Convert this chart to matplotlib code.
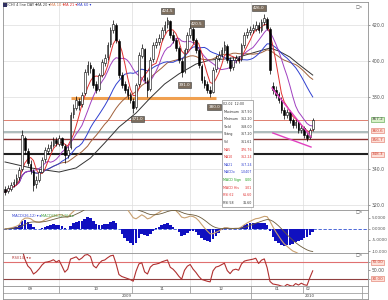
import numpy as np
import pandas as pd
import matplotlib
matplotlib.use('Agg')
import matplotlib.pyplot as plt
from matplotlib.patches import Rectangle

# daily prices, Sep 2009 - Feb 2010
opens = [329.0, 327.5, 329.0, 331.5, 333.0, 335.5, 340.0, 357.0, 350.0, 343.0,
         339.0, 331.5, 334.0, 338.5, 345.5, 350.0, 351.5, 353.5, 356.0, 354.0,
         357.0, 353.0, 348.0, 352.0, 370.5, 374.0, 378.0, 376.0, 382.0, 394.0,
         398.0, 395.5, 387.0, 384.5, 392.5, 399.0, 402.0, 409.5, 417.5, 420.0,
         411.0, 392.0, 387.0, 384.5, 381.0, 378.0, 374.5, 387.0, 403.0, 406.5,
         389.0, 384.5, 401.0, 409.0, 410.5, 413.0, 417.0, 420.5, 422.0, 414.5,
         411.5, 407.0, 400.0, 394.5, 406.5, 414.5, 418.0, 411.5, 406.0, 397.5,
         389.5, 387.0, 384.0, 383.0, 395.5, 401.5, 403.5, 406.0, 408.5, 400.5,
         396.5, 400.5, 401.5, 401.0, 409.0, 414.5, 416.0, 417.5, 418.0, 420.0,
         417.5, 421.5, 423.5, 418.0, 386.0, 384.0, 381.5, 378.5, 373.0, 370.0,
         371.5, 367.0, 364.5, 366.0, 361.5, 362.5, 359.0, 357.5, 362.0]
highs = [330.5, 331.0, 332.5, 334.5, 337.0, 341.0, 361.5, 358.5, 351.5, 345.0,
         340.0, 336.0, 340.0, 346.5, 352.0, 354.0, 355.5, 358.0, 357.5, 359.0,
         358.0, 354.0, 352.5, 371.5, 376.0, 380.5, 379.5, 383.0, 395.5, 400.0,
         399.5, 396.5, 389.0, 393.5, 401.0, 404.0, 410.5, 419.0, 423.0, 421.0,
         412.0, 394.0, 389.0, 386.0, 383.0, 379.5, 388.0, 405.0, 409.5, 407.5,
         391.0, 402.0, 410.5, 413.0, 415.0, 419.0, 422.0, 424.5, 423.0, 416.5,
         413.0, 408.5, 401.5, 407.5, 416.0, 420.5, 419.0, 413.0, 407.0, 398.5,
         391.5, 389.0, 386.0, 396.5, 403.5, 405.5, 408.0, 411.0, 409.5, 402.0,
         402.5, 403.5, 403.0, 410.0, 416.0, 418.5, 419.5, 420.5, 422.0, 421.5,
         423.5, 426.0, 424.5, 419.0, 388.5, 386.0, 383.0, 380.0, 374.5, 373.5,
         373.0, 368.5, 368.0, 367.0, 364.5, 364.0, 360.5, 363.0, 368.5]
lows = [325.5, 326.5, 328.0, 330.0, 331.5, 334.0, 339.0, 348.5, 341.5, 337.0,
        327.5, 329.5, 332.5, 337.5, 344.0, 348.5, 350.0, 352.0, 352.5, 352.5,
        351.5, 343.5, 346.0, 351.0, 368.5, 372.5, 373.0, 374.5, 381.0, 392.5,
        393.5, 385.0, 382.0, 383.5, 391.0, 397.5, 400.5, 408.0, 415.5, 410.0,
        390.5, 385.0, 382.0, 379.0, 376.5, 371.0, 373.5, 386.0, 401.5, 388.0,
        380.0, 383.5, 399.5, 407.0, 409.0, 411.5, 415.5, 418.5, 413.0, 410.0,
        405.5, 399.0, 391.0, 393.5, 405.0, 413.0, 410.0, 404.5, 396.0, 388.0,
        385.0, 382.0, 380.0, 382.0, 394.0, 400.0, 402.0, 404.5, 399.0, 394.5,
        395.0, 399.0, 399.0, 400.0, 407.5, 413.0, 414.5, 415.5, 416.5, 415.5,
        416.0, 420.0, 417.0, 393.0, 381.5, 379.5, 376.5, 371.0, 368.0, 368.5,
        365.5, 362.5, 363.0, 360.0, 360.0, 357.0, 355.5, 356.5, 361.0]
closes = [327.2, 329.4, 331.1, 332.8, 335.0, 339.5, 358.9, 350.6, 343.3, 339.5,
          331.1, 333.9, 338.4, 345.0, 350.6, 351.7, 353.3, 356.1, 354.5, 357.2,
          353.3, 347.8, 350.6, 370.0, 373.9, 378.3, 375.6, 381.1, 393.9, 397.8,
          396.1, 386.7, 383.9, 392.2, 399.5, 401.7, 408.9, 417.2, 420.6, 411.7,
          392.2, 386.7, 383.9, 381.1, 378.3, 373.9, 386.7, 403.3, 407.2, 389.5,
          383.9, 400.6, 408.9, 410.6, 412.8, 417.2, 420.0, 422.8, 414.4, 411.7,
          407.2, 400.6, 393.9, 406.1, 414.4, 418.3, 411.7, 406.1, 397.8, 389.5,
          386.7, 383.9, 382.2, 395.0, 401.7, 403.3, 406.1, 408.9, 400.6, 396.1,
          400.6, 401.7, 400.6, 408.9, 414.4, 416.1, 417.2, 418.3, 420.0, 417.2,
          421.7, 423.9, 418.3, 395.0, 383.9, 381.1, 378.3, 372.8, 370.0, 371.7,
          367.2, 364.4, 366.1, 361.7, 362.8, 358.9, 357.2, 361.7, 367.2]

# slowest average line
slow_days = [0, 9, 19, 25, 30, 35, 40, 46, 51, 56, 61, 67, 72, 77, 82, 88, 93, 96, 100, 103, 108]
slow_vals = [343.9, 340.6, 338.3, 340.6, 346.1, 354.5, 363.3, 371.1, 379.5, 387.2, 392.8,
             398.3, 400.6, 401.1, 402.2, 405.0, 407.2, 405.6, 402.2, 398.3, 392.2]

# support / resistance levels and trend channel
levels = [367.2, 360.6, 356.7, 348.3]
level_colors = ['#e08070', '#a0b0b0', '#8b3030', '#202020']
level_widths = [0.7, 1.2, 1.0, 1.5]
orange_level = 379.5
orange_span = [23, 74]
chan_upper = [(93.7, 385.0), (107.4, 357.8)]
chan_lower = [(94.0, 360.0), (107.4, 352.2)]

peak_days = [57, 65, 91]
trough_days = [45, 62, 72]

month_bounds = [19, 44.5, 65, 86.5, 104.5, 125.3]
month_labels = ['09', '10', '11', '12', '01', '02']
month_label_pos = [9, 31.8, 55, 76, 95.5, 106.3]
year_labels = ['2009', '2010']
year_label_pos = [42.8, 107]

price_ticks = [320, 340, 380, 400, 420]
macd_ticks = [5, 0, -5, -10]
rsi_ticks = [70, 50, 30]

tooltip = [('02-02  12:00', '', '#333333'),
           ('Maximum', '367.90', '#333333'),
           ('Minimum', '362.20', '#333333'),
           ('Yield', '368.00', '#333333'),
           ('Stäng', '367.20', '#333333'),
           ('Vol', '361.61', '#333333'),
           ('MA5', '376.76', '#e03030'),
           ('MA10', '362.24', '#e03030'),
           ('MA21', '367.24', '#3040d0'),
           ('MACDx', '1.0407', '#3040d0'),
           ('MACD Sign', '0.00', '#20a020'),
           ('MACD His', '3.01', '#e03030'),
           ('RSI 62', '61.60', '#e03030'),
           ('RSI 58', '31.60', '#333333')]

W, H = 388, 300
def fx(px):
    return px / W
def fy(py):
    return 1 - py / H

s = pd.Series(closes)
days = np.arange(len(closes))
o = np.array(opens); c = np.array(closes); hi = np.array(highs); lo = np.array(lows)

fig = plt.figure(figsize=(3.88, 3.0), dpi=100)
left, right = 3, 368
xw = fx(right) - fx(left)
ax = fig.add_axes([fx(left), fy(210), xw, fy(2) - fy(210)])
axm = fig.add_axes([fx(left), fy(253), xw, fy(210) - fy(253)])
axr = fig.add_axes([fx(left), fy(286), xw, fy(253) - fy(286)])
axd = fig.add_axes([fx(left), fy(299), xw, fy(286) - fy(299)])

fs = 3.3
for a in (ax, axm, axr, axd):
    a.set_xlim(-0.7, 127.4)
    for sp in a.spines.values():
        sp.set_color('#909090')
        sp.set_linewidth(0.6)
    a.set_xticks([])
    a.yaxis.tick_right()
    a.tick_params(axis='y', length=1.5, width=0.4, labelsize=fs, colors='#555555', pad=1.2)
    if a is not axd:
        for b in month_bounds[:-1]:
            a.axvline(b, color='#dddddd', lw=0.5, zorder=0)

# main price panel
ax.set_ylim(317.2, 432.8)
for t in [320, 340, 360, 380, 400, 420]:
    ax.axhline(t, color='#dddddd', lw=0.5, zorder=0)
ax.set_yticks(price_ticks)
ax.set_yticklabels([f'{t:.1f}' for t in price_ticks])

ax.hlines(orange_level, orange_span[0], orange_span[1], color='#f0a050', lw=2.2, zorder=1)
for lv, col, lw in zip(levels, level_colors, level_widths):
    ax.axhline(lv, color=col, lw=lw, zorder=1)

ax.plot(slow_days, slow_vals, color='#333333', lw=0.7, zorder=2)
ax.plot(days, s.rolling(30, min_periods=1).mean(), color='#a0603a', lw=0.7, zorder=2)
ax.plot(days, s.rolling(20, min_periods=1).mean(), color='#3040d0', lw=0.7, zorder=2)
ax.plot(days, s.rolling(10, min_periods=1).mean(), color='#a040c0', lw=0.7, zorder=2)
ax.plot(days, s.rolling(5, min_periods=1).mean(), color='#e03030', lw=0.7, zorder=2)

up = c >= o
ax.vlines(days, lo, hi, color='black', lw=0.5, zorder=3)
ax.bar(days[up], (c - o)[up], bottom=o[up], width=0.6, color='white',
       edgecolor='black', lw=0.4, zorder=4)
ax.bar(days[~up], (o - c)[~up], bottom=c[~up], width=0.6, color='black',
       edgecolor='black', lw=0.4, zorder=4)

for seg in (chan_upper, chan_lower):
    ax.plot([p[0] for p in seg], [p[1] for p in seg], color='#e040c0', lw=1.0, zorder=5)

box = dict(boxstyle='square,pad=0.25', fc='#7d6e5e', ec='#3a3a3a', lw=0.4)
peak_off = [(0, 3), (5, -1), (-4, 3)]
trough_off = [(3, -3), (2, -4), (3, -6)]
for d, off in zip(peak_days, peak_off):
    ax.annotate(f'{highs[d]:.1f}', (d, highs[d]), xytext=off, textcoords='offset points',
                ha='center', va='bottom', fontsize=3.0, color='white', bbox=box, zorder=6)
for d, off in zip(trough_days, trough_off):
    ax.annotate(f'{lows[d]:.1f}', (d, lows[d]), xytext=off, textcoords='offset points',
                ha='center', va='top', fontsize=3.0, color='white', bbox=box, zorder=6)

# right side level labels
lab_cols = [('#d8f0c8', '#50a040'), ('#fde0d8', '#e07060'), ('#fde0d8', '#e07060'), ('#fde0d8', '#e07060')]
lab_pos = [367.7, 361.2, 356.2, 348.3]
for lv, yp, (fc, ec) in zip(levels, lab_pos, lab_cols):
    ax.text(1.01, yp, f'{lv:.1f}', transform=ax.get_yaxis_transform(), fontsize=3.0,
            color='#444444' if fc == '#d8f0c8' else '#d04030', va='center', ha='left',
            bbox=dict(boxstyle='square,pad=0.12', fc=fc, ec=ec, lw=0.4), clip_on=False)

# legend line at top
legend_items = [('(CH) 4 line DAY ▾', '#333333', 7), ('MA 20 ▾', '#444444', 36),
                ('MA 10 ▾', '#e08050', 50), ('MA 21 ▾', '#e03030', 63), ('MA 60 ▾', '#3040d0', 77)]
fig.patches.append(Rectangle((fx(3.5), fy(7)), 3 / W, 3.5 / H, transform=fig.transFigure,
                             fc='#303060', ec='none'))
for txt, col, px in legend_items:
    fig.text(fx(px), fy(5.5), txt, fontsize=2.6, color=col, va='center', ha='left')

# tooltip box
fig.patches.append(Rectangle((fx(222), fy(207)), 31 / W, 107 / H, transform=fig.transFigure,
                             fc='white', ec='#909090', lw=0.5, zorder=10))
for i, (k, v, col) in enumerate(tooltip):
    yy = 104 + i * 7.6
    fig.text(fx(223.5), fy(yy), k, fontsize=2.3, color=col, va='center', ha='left', zorder=11)
    fig.text(fx(252), fy(yy), v, fontsize=2.3, color=col, va='center', ha='right', zorder=11)

# MACD panel
ema12 = s.ewm(span=12, adjust=False).mean()
ema26 = s.ewm(span=26, adjust=False).mean()
macd = ema12 - ema26
signal = macd.ewm(span=9, adjust=False).mean()
hist = 1.4 * (macd - signal)
axm.set_ylim(-10.9, 8.6)
axm.bar(days, hist, width=0.9, color='#1010c0', zorder=2)
axm.axhline(0, color='#3050d0', lw=0.6, ls=(0, (4, 2)), zorder=1)
axm.plot(days, macd, color='#c8a070', lw=0.8, zorder=3)
axm.plot(days, signal, color='#6a5a3a', lw=0.6, zorder=3)
axm.set_yticks(macd_ticks)
axm.set_yticklabels(['5.0000', '0.0000', '-5.0000', '-10.000'])
axm.tick_params(axis='y', labelsize=3.0)
axm.text(0.025, 0.85, 'MACD(26,12) ▾ ▸', transform=axm.transAxes, fontsize=2.6, color='#3040d0', va='center')
axm.text(0.105, 0.85, 'MACD(26,12,9) ▾ ▸', transform=axm.transAxes, fontsize=2.6, color='#40a040', va='center')

# RSI panel
delta = s.diff()
gain = delta.clip(lower=0).ewm(alpha=1 / 6, adjust=False).mean()
loss = (-delta.clip(upper=0)).ewm(alpha=1 / 6, adjust=False).mean()
rsi = 100 - 100 / (1 + gain / loss)
axr.set_ylim(13.5, 91.2)
axr.axhline(70, color='#e07070', lw=0.8, zorder=1)
axr.axhline(30, color='#904040', lw=0.8, zorder=1)
axr.plot(days, rsi, color='#b03030', lw=0.8, zorder=2)
axr.set_yticks(rsi_ticks)
axr.set_yticklabels(['', '50.00', ''])
for v in (70, 30):
    axr.text(1.01, v, f'{v:.2f}', transform=axr.get_yaxis_transform(), fontsize=3.0, color='#d04030',
             va='center', ha='left', bbox=dict(boxstyle='square,pad=0.12', fc='#fde0d8', ec='#e07060', lw=0.4),
             clip_on=False)
axr.text(0.025, 0.85, 'RSI(14) ▾ ▸', transform=axr.transAxes, fontsize=2.6, color='#b03030', va='center')

# small panel icons
for a in (ax, axm, axr):
    a.text(0.985, 0.985, '□×', transform=a.transAxes, fontsize=3.0, color='#444444', ha='right', va='top')

# date band
axd.set_ylim(0, 2)
axd.set_yticks([])
axd.axhline(1, color='#909090', lw=0.5)
for b in month_bounds:
    axd.vlines(b, 1, 2, color='#909090', lw=0.5)
axd.vlines(86.5, 0, 1, color='#909090', lw=0.5)
axd.vlines(125.3, 0, 1, color='#909090', lw=0.5)
for lab, p in zip(month_labels, month_label_pos):
    axd.text(p, 1.5, lab, fontsize=2.8, color='#444444', ha='center', va='center')
for lab, p in zip(year_labels, year_label_pos):
    axd.text(p, 0.5, lab, fontsize=2.8, color='#444444', ha='center', va='center')

fig.savefig('out.png', dpi=100)
